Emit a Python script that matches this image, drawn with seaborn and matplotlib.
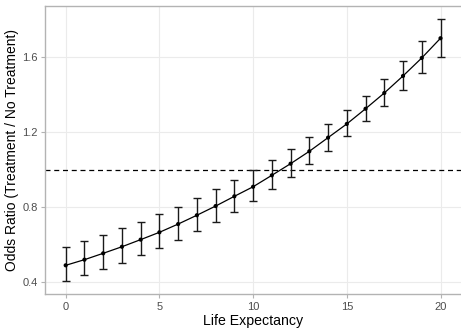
import numpy as np
import pandas as pd
import matplotlib
matplotlib.use("Agg")
import matplotlib.pyplot as plt
import seaborn as sns

life_expectancy = list(range(0, 21))
odds_ratio = [0.489, 0.519, 0.553, 0.588, 0.626, 0.665, 0.709, 0.756, 0.805, 0.857, 0.908,
              0.969, 1.031, 1.097, 1.170, 1.243, 1.324, 1.408, 1.499, 1.595, 1.700]
ci_lower = [0.407, 0.436, 0.469, 0.503, 0.542, 0.581, 0.626, 0.670, 0.720, 0.775, 0.832,
            0.894, 0.960, 1.028, 1.100, 1.177, 1.257, 1.339, 1.426, 1.515, 1.602]
ci_upper = [0.585, 0.617, 0.651, 0.686, 0.722, 0.763, 0.802, 0.848, 0.894, 0.944, 0.999,
            1.051, 1.109, 1.175, 1.243, 1.316, 1.394, 1.481, 1.579, 1.685, 1.803]
x_ticks = [0, 5, 10, 15, 20]
y_ticks = [0.4, 0.8, 1.2, 1.6]
y_tick_labels = ["0.4", "0.8", "1.2", "1.6"]
reference_line = 1.0

df = pd.DataFrame({"le": life_expectancy, "or": odds_ratio, "lo": ci_lower, "hi": ci_upper})

sns.set_theme(style="white")
plt.rcParams["font.family"] = ["Liberation Sans", "DejaVu Sans"]

fig = plt.figure(figsize=(4.61, 3.28), dpi=100)
W, H = 461, 328
left, right, top, bottom = 44.7, 461.5, 6.0, 294.0
ax = fig.add_axes([left / W, 1 - bottom / H, (right - left) / W, (bottom - top) / H])

ax.set_xlim(-1.12, 21.12)
ax.set_ylim(0.336, 1.872)

ax.set_xticks(x_ticks)
ax.set_yticks(y_ticks)
ax.set_yticklabels(y_tick_labels)
ax.grid(True, color="#ebebeb", linewidth=0.8)
ax.set_axisbelow(True)

ax.axhline(reference_line, color="black", linestyle=(0, (4, 3)), linewidth=0.9, zorder=2)

ax.errorbar(df["le"], df["or"],
            yerr=[df["or"] - df["lo"], df["hi"] - df["or"]],
            fmt="none", ecolor="#1a1a1a", elinewidth=1.0, capsize=3.0, capthick=1.0, zorder=3)
sns.lineplot(data=df, x="le", y="or", ax=ax, color="black", linewidth=0.9, zorder=4)
sns.scatterplot(data=df, x="le", y="or", ax=ax, color="black", s=9, edgecolor="none", zorder=5)

for side in ["left", "bottom", "top", "right"]:
    ax.spines[side].set_color("#b3b3b3")
    ax.spines[side].set_linewidth(1.0)

ax.tick_params(axis="both", which="major", length=3, width=0.8, color="#b3b3b3",
               labelsize=8.0, labelcolor="#4d4d4d", pad=2, direction="out")
ax.tick_params(axis="x", pad=3)
ax.tick_params(bottom=True, left=True)

ax.set_xlabel("Life Expectancy", fontsize=10.2, color="black", labelpad=1.5)
ax.set_ylabel("Odds Ratio (Treatment / No Treatment)", fontsize=10.0, color="black", labelpad=2)

fig.savefig("out.png", dpi=100)
